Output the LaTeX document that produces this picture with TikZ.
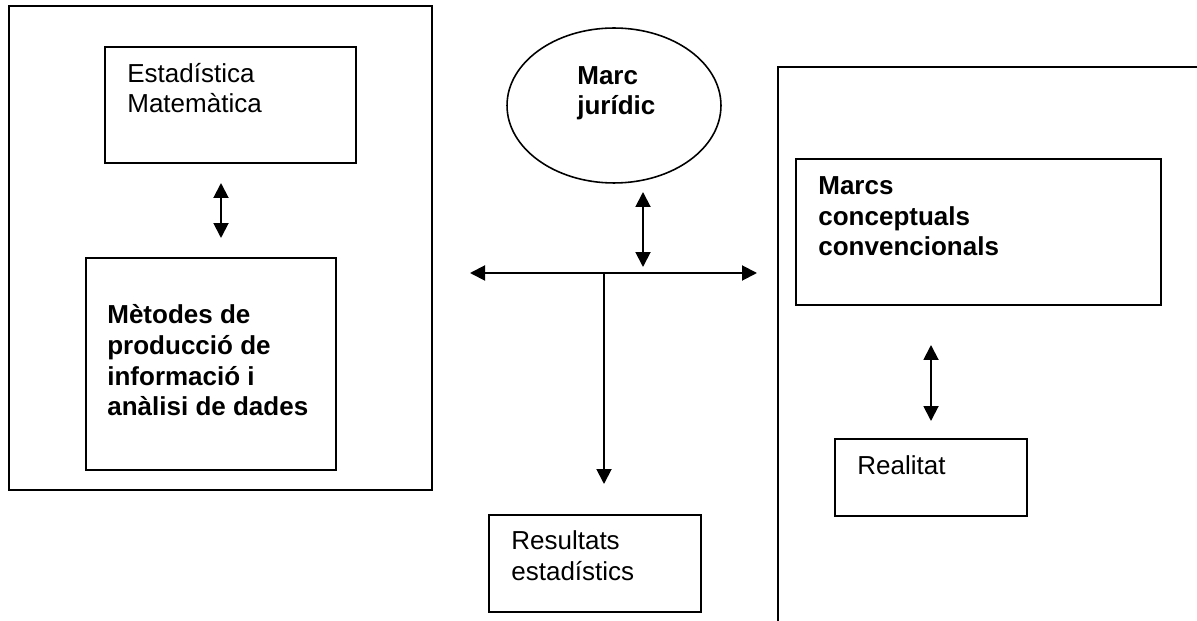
\documentclass[tikz,border=0pt]{standalone}
\usepackage{fontspec}
\setmainfont{Liberation Sans}
\usepackage{tikz}
\usetikzlibrary{shapes.geometric, arrows, arrows.meta}
\tikzstyle{whitebox} = [rectangle, draw=black, line width=0.9pt, inner sep=0pt, outer sep=0pt]
\tikzstyle{oval} = [ellipse, draw=black, line width=0.9pt, inner sep=0pt]
\tikzstyle{boxtext} = [anchor=base west, align=left, inner sep=0pt, font=\fontsize{14.8}{17.6}\selectfont]
\tikzstyle{twoway} = [line width=1.1pt, {Triangle[length=0.3cm,width=0.3cm]}-{Triangle[length=0.3cm,width=0.3cm]}]
\tikzstyle{oneway} = [line width=1.1pt, -{Triangle[length=0.3cm,width=0.3cm]}]

\begin{document}
\begin{tikzpicture}[x=0.02cm, y=-0.02cm]
      \useasboundingbox (0,0) rectangle (1197,621);

      \node (leftframe) [whitebox, minimum width=8.46cm, minimum height=9.68cm] at (220.5,248) {};
      \node (estad) [whitebox, minimum width=5.02cm, minimum height=2.32cm] at (230.5,105) {};
      \node (estadtext) [boxtext] at (127,113) {Estadística\\Matemàtica};
      \node (metodes) [whitebox, minimum width=5cm, minimum height=4.24cm] at (211,364) {};
      \node (metodestext) [boxtext, font=\fontsize{14.8}{17.6}\selectfont\bfseries] at (107,416) {Mètodes de\\producció de\\informació i\\anàlisi de dades};

      \node (marc) [oval, minimum width=4.28cm, minimum height=3.1cm] at (614,105.5) {};
      \node (marctext) [boxtext, font=\fontsize{14.8}{17.6}\selectfont\bfseries] at (577,115) {Marc\\jurídic};
      \node (resultats) [whitebox, minimum width=4.24cm, minimum height=1.94cm] at (595,563.5) {};
      \node (resultatstext) [boxtext] at (511,580) {Resultats\\estadístics};

      \node (marcs) [whitebox, minimum width=7.3cm, minimum height=2.92cm] at (978.5,232) {};
      \node (marcstext) [boxtext, font=\fontsize{14.8}{17.6}\selectfont\bfseries] at (818,256) {Marcs\\conceptuals\\convencionals};
      \node (realitat) [whitebox, minimum width=3.84cm, minimum height=1.54cm] at (931,477.5) {};
      \node (realitattext) [boxtext] at (857,475) {Realitat};

      \coordinate (estadlow) at (221,183);
      \coordinate (metodesup) at (221,238);
      \coordinate (marclow) at (643,192);
      \coordinate (axisup) at (643,267);
      \coordinate (axisleft) at (470,273);
      \coordinate (axisright) at (757,273);
      \coordinate (axisfoot) at (604,273);
      \coordinate (resultatsup) at (604,484);
      \coordinate (marcslow) at (931,345);
      \coordinate (realitatup) at (931,421);
      \coordinate (rightframetop) at (1197,67);
      \coordinate (rightframecorner) at (778,67);
      \coordinate (rightframefoot) at (778,621);

      \draw [line width=0.9pt] (rightframetop) -- (rightframecorner) -- (rightframefoot);
      \draw [twoway] (estadlow) -- (metodesup);
      \draw [twoway] (marclow) -- (axisup);
      \draw [twoway] (axisleft) -- (axisright);
      \draw [oneway] (axisfoot) -- (resultatsup);
      \draw [twoway] (marcslow) -- (realitatup);
\end{tikzpicture}
\end{document}
